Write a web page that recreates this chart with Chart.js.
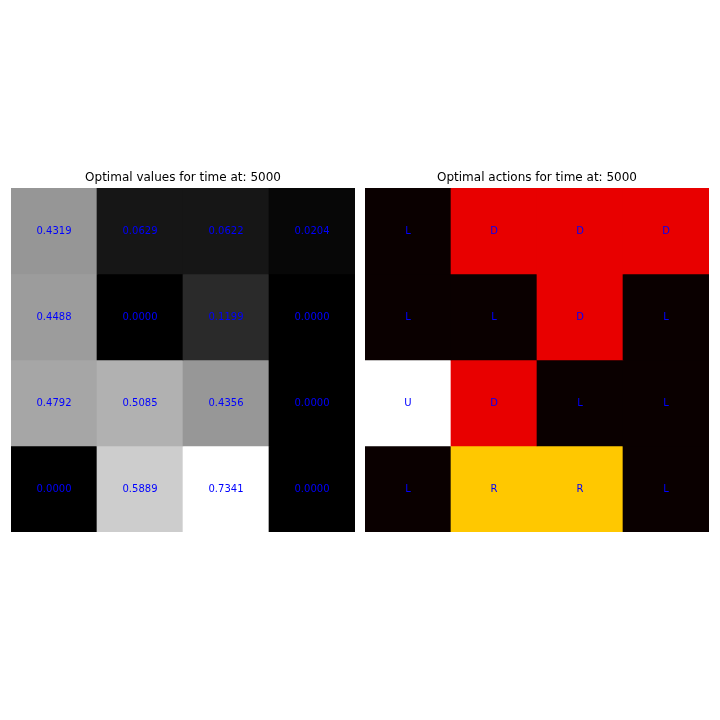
<!DOCTYPE html>
<html>
<head>
<meta charset="utf-8">
<script src="https://cdn.jsdelivr.net/npm/chart.js@4.4.0/dist/chart.umd.min.js"></script>
<style>
  html, body { margin: 0; padding: 0; background: #ffffff; }
  body { width: 720px; height: 720px; position: relative; overflow: hidden; }
  .box { position: absolute; top: 170px; width: 344px; height: 362px; }
</style>
</head>
<body>
<div class="box" style="left:11px;"><canvas id="cv1"></canvas></div>
<div class="box" style="left:365px;"><canvas id="cv2"></canvas></div>
<script>
// ---- data ----
const columns = ['0', '1', '2', '3'];
const rows = ['0', '1', '2', '3'];
const valueRow0 = [0.4319, 0.0629, 0.0622, 0.0204];
const valueRow1 = [0.4488, 0.0000, 0.1199, 0.0000];
const valueRow2 = [0.4792, 0.5085, 0.4356, 0.0000];
const valueRow3 = [0.0000, 0.5889, 0.7341, 0.0000];
const actionRow0 = ['L', 'D', 'D', 'D'];
const actionRow1 = ['L', 'L', 'D', 'L'];
const actionRow2 = ['U', 'D', 'L', 'L'];
const actionRow3 = ['L', 'R', 'R', 'L'];
const valueRows = [valueRow0, valueRow1, valueRow2, valueRow3];
const actionRows = [actionRow0, actionRow1, actionRow2, actionRow3];
const timeStep = 5000;

// ---- styles ----
const actionColors = { L: '#0a0000', D: '#e80000', R: '#ffc800', U: '#ffffff' };
const vMax = Math.max(...valueRows.flat());
const vMin = Math.min(...valueRows.flat());
function grayColor(v) {
  const g = Math.round(255 * (v - vMin) / (vMax - vMin));
  return 'rgb(' + g + ',' + g + ',' + g + ')';
}

const labelPlugin = {
  id: 'cellLabels',
  afterDatasetsDraw(chart) {
    const ctx = chart.ctx;
    const texts = chart.options.plugins.cellLabels.texts;
    ctx.save();
    ctx.fillStyle = '#0000ff';
    ctx.font = '10px "DejaVu Sans"';
    ctx.textAlign = 'center';
    ctx.textBaseline = 'middle';
    chart.data.datasets.forEach((ds, di) => {
      const meta = chart.getDatasetMeta(di);
      meta.data.forEach((el, ci) => {
        const p = el.getCenterPoint();
        ctx.fillText(texts[di][ci], p.x, p.y);
      });
    });
    ctx.restore();
  }
};

function makeChart(id, title, colorRows, texts) {
  const datasets = rows.map((r, ri) => ({
    label: 'row ' + r,
    data: columns.map(() => [rows.length - 1 - ri, rows.length - ri]),
    backgroundColor: colorRows[ri],
    borderColor: colorRows[ri],
    borderWidth: 0,
    barPercentage: 1,
    categoryPercentage: 1,
    grouped: false
  }));
  return new Chart(document.getElementById(id), {
    type: 'bar',
    data: { labels: columns, datasets },
    options: {
      responsive: true,
      maintainAspectRatio: false,
      animation: false,
      layout: { padding: 0 },
      scales: {
        x: { display: false, offset: true },
        y: { display: false, min: 0, max: rows.length }
      },
      plugins: {
        legend: { display: false },
        tooltip: { enabled: false },
        title: {
          display: true,
          text: title,
          color: '#000000',
          font: { family: '"DejaVu Sans"', size: 12, weight: 'normal', lineHeight: 1.25 },
          padding: { top: 0, bottom: 3 }
        },
        cellLabels: { texts }
      }
    },
    plugins: [labelPlugin]
  });
}

makeChart('cv1', 'Optimal values for time at: ' + timeStep,
  valueRows.map(r => r.map(grayColor)),
  valueRows.map(r => r.map(v => v.toFixed(4))));
makeChart('cv2', 'Optimal actions for time at: ' + timeStep,
  actionRows.map(r => r.map(a => actionColors[a])),
  actionRows);
</script>
</body>
</html>
